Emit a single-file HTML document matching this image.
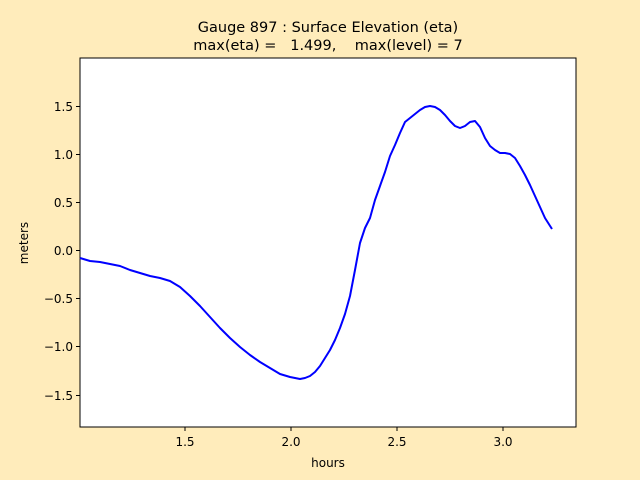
<!DOCTYPE html>
<html><head><meta charset="utf-8"><style>
body{margin:0;background:#ffecbb;}
svg{display:block;font-family:"DejaVu Sans","Liberation Sans",sans-serif;}
</style></head><body>
<svg width="640" height="480" viewBox="0 0 640 480" xmlns="http://www.w3.org/2000/svg">
<rect width="640" height="480" fill="#ffecbb"/>
<rect x="80" y="58" width="496" height="369" fill="#fff" stroke="#000" stroke-width="1"/>
<text x="328" y="32" font-size="14.5" text-anchor="middle">Gauge 897 : Surface Elevation (eta)</text>
<text x="328" y="50" font-size="14.5" text-anchor="middle" xml:space="preserve">max(eta) =   1.499,    max(level) = 7</text>
<g stroke="#000" stroke-width="1">
<line x1="185" y1="427" x2="185" y2="431"/><line x1="291" y1="427" x2="291" y2="431"/>
<line x1="397" y1="427" x2="397" y2="431"/><line x1="503" y1="427" x2="503" y2="431"/>
<line x1="76" y1="106.5" x2="80" y2="106.5"/><line x1="76" y1="154.5" x2="80" y2="154.5"/>
<line x1="76" y1="202.5" x2="80" y2="202.5"/><line x1="76" y1="250.5" x2="80" y2="250.5"/>
<line x1="76" y1="298.5" x2="80" y2="298.5"/><line x1="76" y1="346.5" x2="80" y2="346.5"/>
<line x1="76" y1="395.5" x2="80" y2="395.5"/>
</g>
<g font-size="12" text-anchor="middle">
<text x="185" y="446">1.5</text><text x="291" y="446">2.0</text>
<text x="397" y="446">2.5</text><text x="503" y="446">3.0</text>
<text x="328" y="467">hours</text>
</g>
<g font-size="12" text-anchor="end">
<text x="73" y="111">1.5</text><text x="73" y="159">1.0</text><text x="73" y="207">0.5</text>
<text x="73" y="255">0.0</text><text x="73" y="303">−0.5</text><text x="73" y="351">−1.0</text>
<text x="73" y="400">−1.5</text>
</g>
<text x="28" y="243" font-size="12" text-anchor="middle" transform="rotate(-90 28 243)">meters</text>
<polyline fill="none" stroke="#0000ff" stroke-width="2" stroke-linejoin="round" points="80,258 90,261 100,262 110,264 120,266 130,270 140,273 150,276 160,278 170,281 180,287 190,296 200,306 210,317 220,328 230,338 240,347 250,355 260,362 270,368 280,374 290,377 300,379 305,378 310,376 315,372 320,366 325,358 330,350 335,340 340,328 345,314 350,296 355,270 360,243 365,228 370,218 375,200 380,186 385,172 390,156 395,145 400,133 405,122 410,118 415,114 420,110 425,107 430,106 435,107 440,110 445,115 450,121 455,126 460,128 465,126 470,122 475,121 480,127 485,138 490,146 495,150 500,153 505,153 510,154 515,158 520,166 525,175 530,185 535,196 540,207 545,218 552,229"/>
</svg>
</body></html>
